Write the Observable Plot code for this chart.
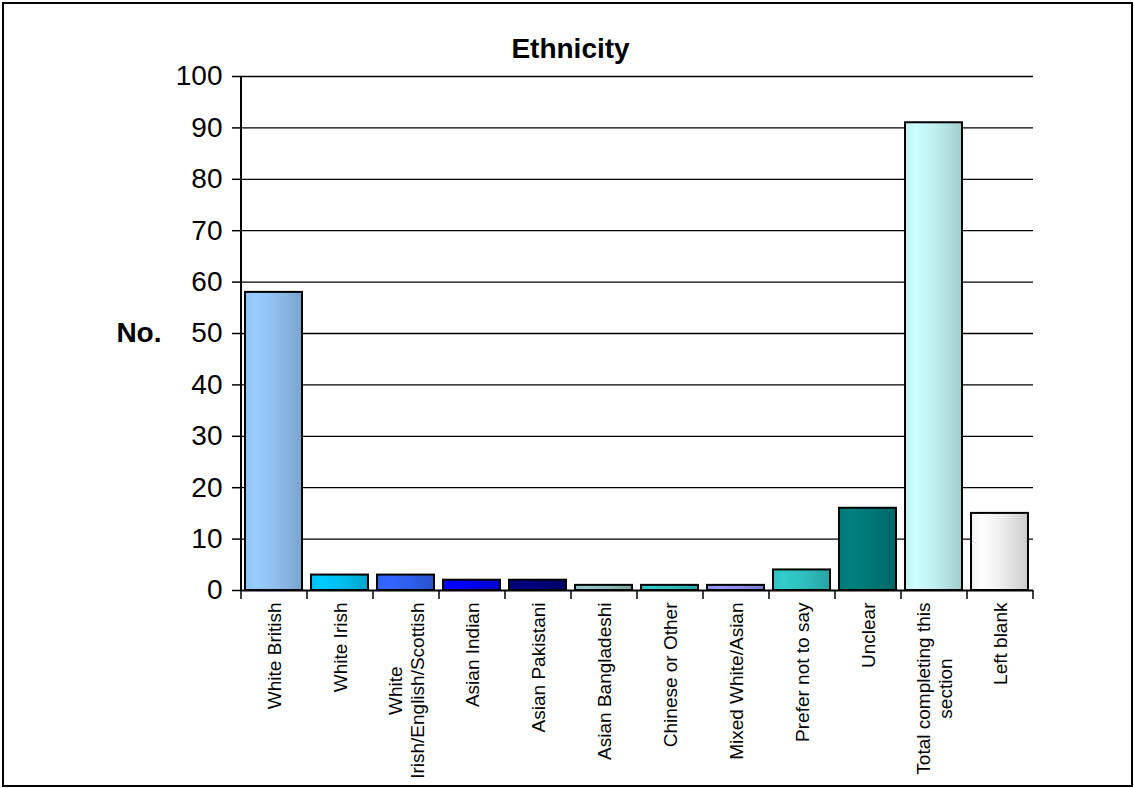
<!DOCTYPE html>
<html>
<head>
<meta charset="utf-8">
<script src="https://cdn.jsdelivr.net/npm/d3@7"></script>
<script src="https://cdn.jsdelivr.net/npm/@observablehq/plot@0.6"></script>
<style>
  html, body { margin: 0; padding: 0; background: #fff; }
  #wrap { position: relative; width: 1134px; height: 788px; overflow: hidden; }
  #border { position: absolute; left: 2px; top: 2px; width: 1131px; height: 785px; box-sizing: border-box; border: 2px solid #000; pointer-events: none; }
  #wrap svg { position: absolute; left: 0; top: 0; }
</style>
</head>
<body>
<div id="wrap"><div id="border"></div></div>
<script>
const categories = [
  "White British",
  "White Irish",
  "White\nIrish/English/Scottish",
  "Asian Indian",
  "Asian Pakistani",
  "Asian Bangladeshi",
  "Chinese or Other",
  "Mixed White/Asian",
  "Prefer not to say",
  "Unclear",
  "Total completing this\nsection",
  "Left blank"
];
const values = [58, 3, 3, 2, 2, 1, 1, 1, 4, 16, 91, 15];
const barColors = ["#99CCFF", "#00CCFF", "#3366FF", "#0000FF", "#000080", "#99CCCC", "#33CCCC", "#9999FF", "#33CCCC", "#008080", "#CCFFFF", "#FFFFFF"];
const yTicks = d3.range(0, 101, 10);
const title = "Ethnicity";
const yLabel = "No.";

const W = 1134, H = 788;
const mL = 241, mR = 101, mT = 76, mB = 198;
const step = (W - mL - mR) / categories.length;
const font = "Arial, 'Liberation Sans', sans-serif";

const data = categories.map((c, i) => ({category: c, value: values[i], fill: `url(#grad${i})`}));

const ctx = document.createElement("canvas").getContext("2d");
ctx.font = `19px ${font}`;
const labelMarks = categories.map((c) => {
  const w = Math.max(...c.split("\n").map(s => ctx.measureText(s).width));
  return Plot.text([c], {
    x: d => d, frameAnchor: "bottom", rotate: -90,
    textAnchor: "middle", lineAnchor: "middle",
    dy: 12 + w / 2, fontSize: 19, lineHeight: 1.15, fill: "black"
  });
});

const chart = Plot.plot({
  width: W, height: H,
  marginLeft: mL, marginRight: mR, marginTop: mT, marginBottom: mB,
  style: {fontFamily: font, background: "transparent", color: "black"},
  x: {domain: categories, paddingInner: 0.136, paddingOuter: 0.068},
  y: {domain: [0, 100]},
  color: {type: "identity"},
  marks: [
    Plot.ruleY(yTicks.filter(d => d > 0), {stroke: "black", strokeWidth: 1.3}),
    Plot.ruleY([0], {stroke: "black", strokeWidth: 2}),
    Plot.barY(data, {x: "category", y: "value", fill: "fill", stroke: "black", strokeWidth: 2}),
    Plot.ruleX([categories[0]], {dx: -step / 2, stroke: "black", strokeWidth: 2}),
    Plot.axisY({ticks: yTicks, tickSize: 9, tickPadding: 10, fontSize: 28, stroke: "black", strokeWidth: 1.5, tickFormat: d => d, label: null}),
    Plot.axisX({ticks: categories, tickSize: 9, dx: -step / 2, tickFormat: () => "", label: null, stroke: "black", strokeWidth: 1.5}),
    Plot.axisX({ticks: [categories[categories.length - 1]], tickSize: 9, dx: step / 2, tickFormat: () => "", label: null, stroke: "black", strokeWidth: 1.5}),
    ...labelMarks,
    Plot.text([title], {frameAnchor: "top", dx: -67, dy: -19, lineAnchor: "bottom", fontSize: 28, fontWeight: "bold", fill: "black"}),
    Plot.text([yLabel], {frameAnchor: "left", dx: -80, textAnchor: "end", fontSize: 28, fontWeight: "bold", fill: "black"})
  ]
});

// gradient definitions for the bar fills
const ns = "http://www.w3.org/2000/svg";
const defs = document.createElementNS(ns, "defs");
barColors.forEach((c, i) => {
  const g = document.createElementNS(ns, "linearGradient");
  g.setAttribute("id", `grad${i}`);
  g.setAttribute("x1", "0"); g.setAttribute("x2", "1");
  g.setAttribute("y1", "0"); g.setAttribute("y2", "0");
  const mix = t => d3.interpolateRgb(c, "#000")(t);
  [[0, mix(0.06)], [0.18, c], [0.55, mix(0.07)], [1, mix(0.2)]].forEach(([o, col]) => {
    const s = document.createElementNS(ns, "stop");
    s.setAttribute("offset", o);
    s.setAttribute("stop-color", col);
    g.appendChild(s);
  });
  defs.appendChild(g);
});
chart.insertBefore(defs, chart.firstChild);

document.getElementById("wrap").appendChild(chart);
</script>
</body>
</html>
